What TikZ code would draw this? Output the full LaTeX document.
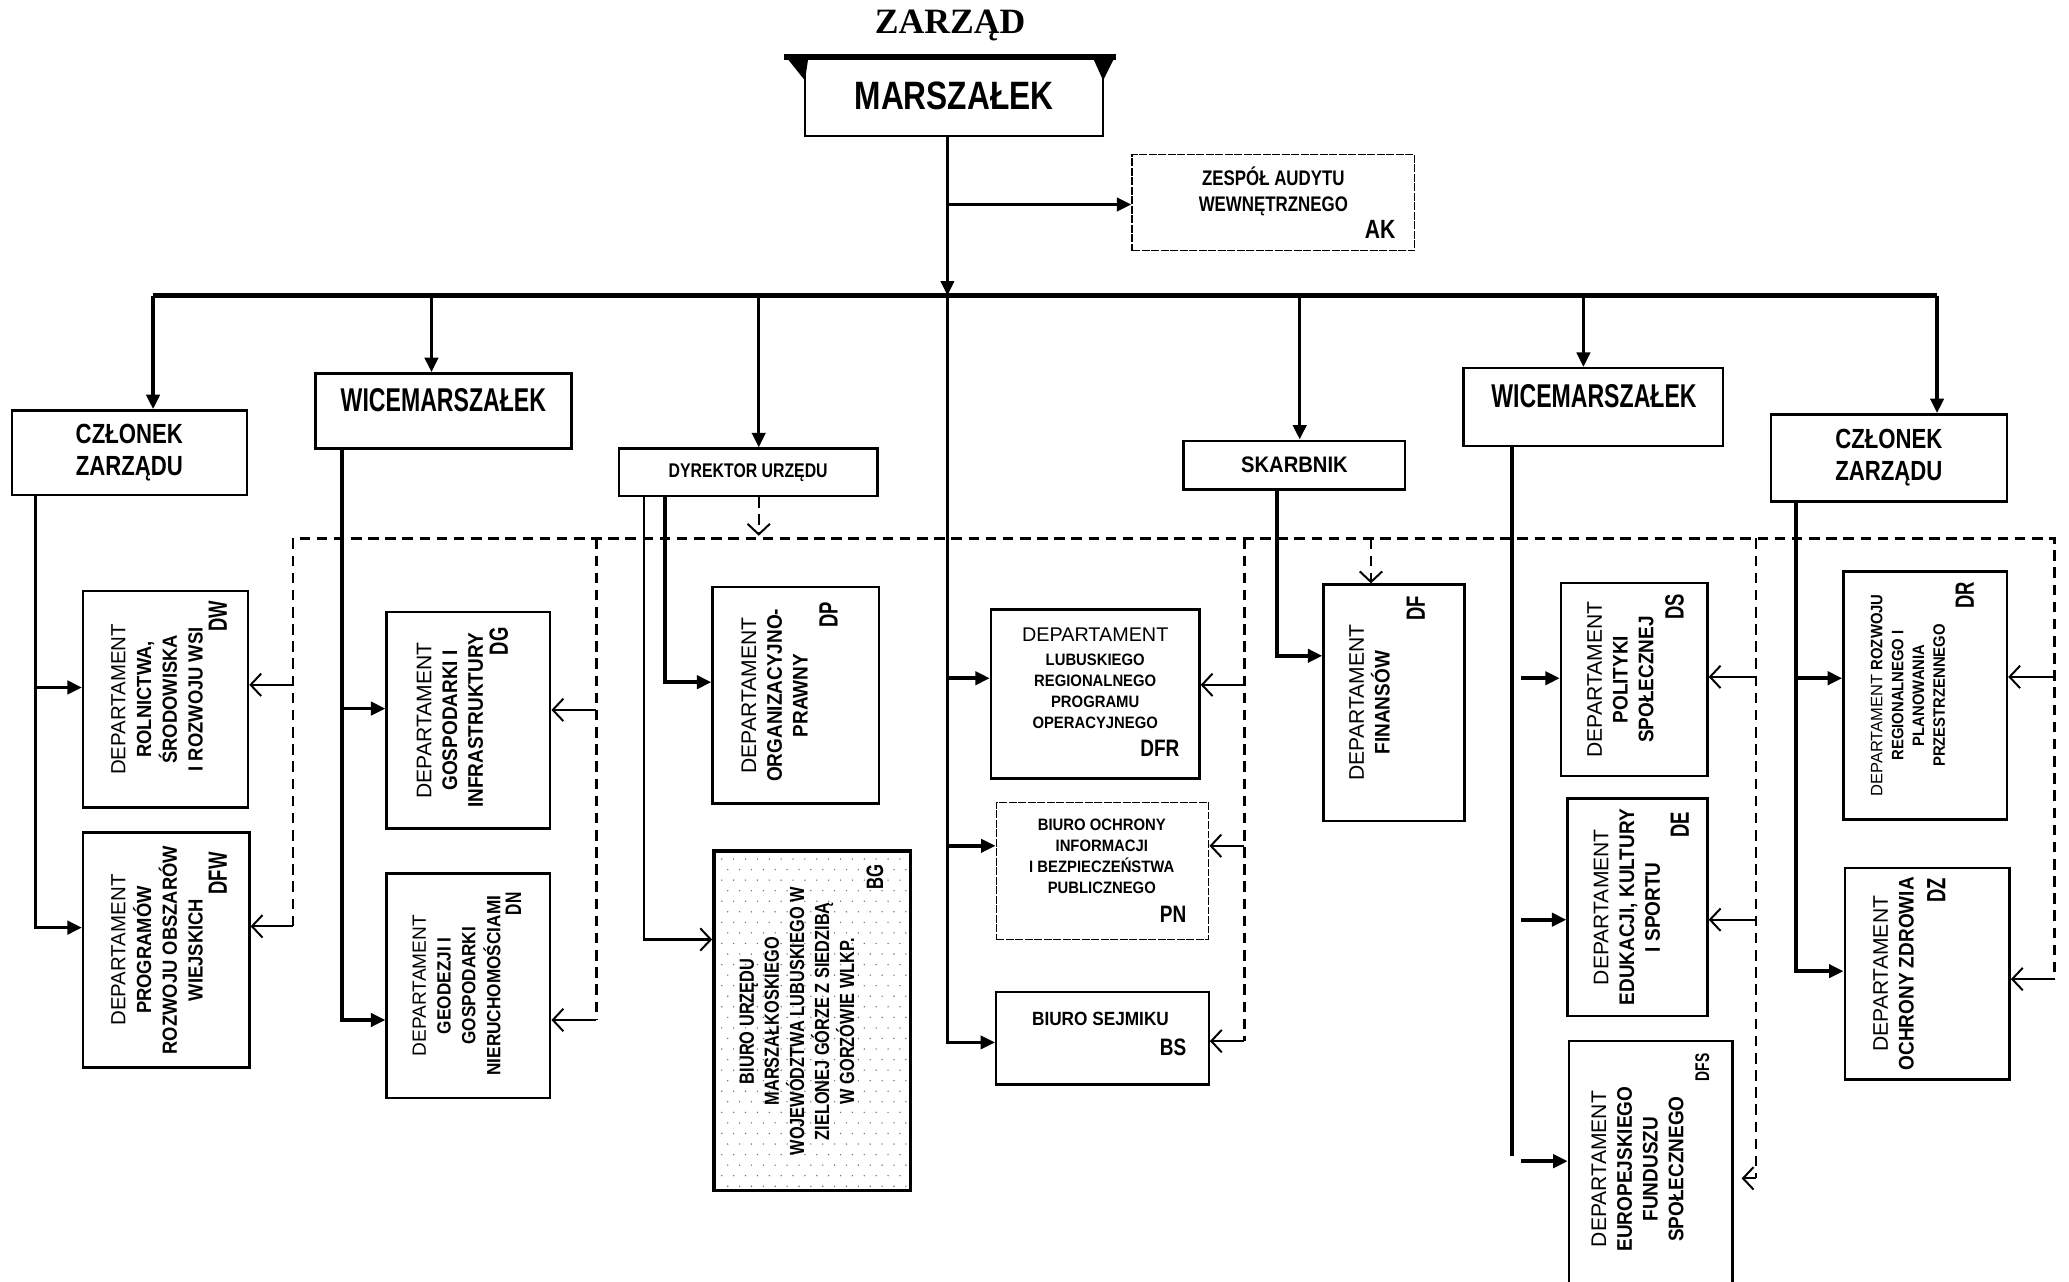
\documentclass[tikz,border=0pt]{standalone}
\usepackage{fontspec}
\setmainfont{Liberation Sans}
\newfontfamily\fA[FakeStretch=0.8]{Liberation Sans}
\newfontfamily\fB[FakeStretch=0.7]{Liberation Sans}
\newfontfamily\fC[FakeStretch=0.9]{Liberation Sans}
\newfontfamily\fS{Liberation Serif}
\usetikzlibrary{arrows.meta,calc}
\newcommand\dep{{\rmfamily\mdseries DEPARTAMENT}}
\begin{document}
\begin{tikzpicture}[x=1pt,y=-1pt,
  box/.style={draw, line width=1.8pt, inner sep=0pt},
  tri/.style={-{Triangle[length=11pt,width=10pt]}},
  barb/.style={-{Straight Barb[length=8pt,width=17pt,line width=1.5pt]}},
  sol/.style={line width=2.8pt},
  thn/.style={line width=1.5pt},
  dsh/.style={line width=1.8pt, dash pattern=on 8pt off 5pt},
  rot/.style={rotate=90, align=center, inner sep=0pt, font=\fontsize{16}{19.5}\selectfont\fC\bfseries},
  rcode/.style={rotate=90, inner sep=0pt, font=\fontsize{20}{20}\selectfont\fB\bfseries},
  hcode/.style={inner sep=0pt, font=\fontsize{18}{18}\selectfont\fA\bfseries},
]
\useasboundingbox (0,0) rectangle (1568,971);
\clip (0,0) rectangle (1568,971);

% ---------- title ----------
\node[font=\fontsize{27}{27}\selectfont\fS\bfseries] (title) at (720,19) {ZARZĄD};

% ---------- top level ----------
\fill (594,41) rectangle (846,45.5);
\fill (594,41) -- (613,41) -- (610,61) -- cycle;
\fill (827,41) -- (846,41) -- (836,61) -- cycle;
\node[box, minimum width=226pt, minimum height=60pt, font=\fontsize{30}{30}\selectfont\fA\bfseries] (marsz) at (723,73) {MARSZAŁEK};

\node[box, line width=1.1pt, dash pattern=on 6pt off 1.2pt, minimum width=214pt, minimum height=73pt] (ak) at (965,153.5) {};
\node[font=\fontsize{16}{19}\selectfont\fA\bfseries, align=center] (akT) at (965,145) {ZESPÓŁ AUDYTU\\WEWNĘTRZNEGO};
\node[hcode, font=\fontsize{20}{20}\selectfont\fA\bfseries] (akC) at (1046,174) {AK};

% ---------- second level ----------
\node[box, minimum width=178pt, minimum height=64pt, align=center, font=\fontsize{21}{24}\selectfont\fA\bfseries] (czlL) at (98,343) {CZŁONEK\\ZARZĄDU};
\node[box, minimum width=194pt, minimum height=57pt] (wicL) at (336,311.5) {};
\node[font=\fontsize{25}{25}\selectfont\fB\bfseries] (wicLT) at (336,303) {WICEMARSZAŁEK};
\node[box, minimum width=196pt, minimum height=36pt, font=\fontsize{15}{15}\selectfont\fA\bfseries] (dyr) at (567,358) {DYREKTOR URZĘDU};
\node[box, minimum width=168pt, minimum height=37pt, font=\fontsize{17}{17}\selectfont\fC\bfseries] (skarb) at (981,352.5) {SKARBNIK};
\node[box, minimum width=197pt, minimum height=59pt] (wicR) at (1207.5,308.5) {};
\node[font=\fontsize{25}{25}\selectfont\fB\bfseries] (wicRT) at (1208,300) {WICEMARSZAŁEK};
\node[box, minimum width=179pt, minimum height=66pt, align=center, font=\fontsize{21}{24}\selectfont\fA\bfseries] (czlR) at (1431.5,347) {CZŁONEK\\ZARZĄDU};

% ---------- departments ----------
\node[box, minimum width=125pt, minimum height=164pt] (dw) at (125.5,530) {};
\node[box, minimum width=126pt, minimum height=178pt] (dfw) at (126,720) {};
\node[box, minimum width=124pt, minimum height=164pt] (dg) at (355,546) {};
\node[box, minimum width=124pt, minimum height=170pt] (dn) at (355,747) {};
\node[box, minimum width=126pt, minimum height=164pt] (dp) at (603,527) {};
\foreach \i in {0,...,15}
  \foreach \j in {0,...,31}
    \fill[black!55] ({547+\i*9+mod(\j,2)*4.5},{651+\j*8}) circle (0.6pt);
\node[box, line width=2.6pt, minimum width=149pt, minimum height=257pt] (bg) at (615.5,773.5) {};
\node[box, minimum width=158pt, minimum height=128pt] (dfr) at (830,526) {};
\node[box, line width=1.1pt, dash pattern=on 6pt off 1.2pt, minimum width=161pt, minimum height=104pt] (pn) at (835.5,660) {};
\node[box, minimum width=161pt, minimum height=70pt] (bs) at (835.5,787) {};
\node[box, minimum width=107pt, minimum height=179pt] (df) at (1056.5,532.5) {};
\node[box, minimum width=111pt, minimum height=146pt] (ds) at (1238.5,515) {};
\node[box, minimum width=106pt, minimum height=165pt] (de) at (1241,687.5) {};
\node[box, minimum width=124pt, minimum height=196pt] (dfs) at (1251,887) {};
\node[box, minimum width=124pt, minimum height=188pt] (dr) at (1459,527) {};
\node[box, minimum width=125pt, minimum height=160pt] (dz) at (1460.5,738) {};

% ---------- department texts ----------
\node[rot, font=\fontsize{15.5}{19.5}\selectfont\fC\bfseries] (dwT) at (119,530) {\dep\\ROLNICTWA,\\ŚRODOWISKA\\I ROZWOJU WSI};
\node[rcode] (dwC) at (165,467) {DW};
\node[rot, font=\fontsize{15.5}{19.5}\selectfont\fC\bfseries] (dfwT) at (119,720) {\dep\\PROGRAMÓW\\ROZWOJU OBSZARÓW\\WIEJSKICH};
\node[rcode] (dfwC) at (165,662) {DFW};
\node[rot] (dgT) at (341,546) {\dep\\GOSPODARKI I\\INFRASTRUKTURY};
\node[rcode] (dgC) at (378,486) {DG};
\node[rot, font=\fontsize{14.5}{18.8}\selectfont\fC\bfseries] (dnT) at (346,747) {\dep\\GEODEZJI I\\GOSPODARKI\\NIERUCHOMOŚCIAMI};
\node[rcode, font=\fontsize{17}{17}\selectfont\fB\bfseries] (dnC) at (389,685) {DN};
\node[rot] (dpT) at (587,527) {\dep\\ORGANIZACYJNO-\\PRAWNY};
\node[rcode] (dpC) at (628,466) {DP};
\node[rot, font=\fontsize{15.5}{19}\selectfont\fA\bfseries] (bgT) at (604,774) {BIURO URZĘDU\\MARSZAŁKOSKIEGO\\WOJEWÓDZTWA LUBUSKIEGO W\\ZIELONEJ GÓRZE Z SIEDZIBĄ\\W GORZÓWIE WLKP.};
\node[rcode, font=\fontsize{18}{18}\selectfont\fB\bfseries] (bgC) at (663,665) {BG};

\node[font=\fontsize{15}{15}\selectfont] (dfrT) at (830,481) {DEPARTAMENT};
\node[font=\fontsize{12.5}{16}\selectfont\fC\bfseries, align=center, inner sep=0pt] (dfrL) at (830,524) {LUBUSKIEGO\\REGIONALNEGO\\PROGRAMU\\OPERACYJNEGO};
\node[hcode] (dfrC) at (879,567) {DFR};
\node[font=\fontsize{12.5}{16}\selectfont\fC\bfseries, align=center, inner sep=0pt] (pnT) at (835,649) {BIURO OCHRONY\\INFORMACJI\\I BEZPIECZEŃSTWA\\PUBLICZNEGO};
\node[hcode] (pnC) at (889,693) {PN};
\node[font=\fontsize{14.5}{14.5}\selectfont\fC\bfseries] (bsT) at (834,772) {BIURO SEJMIKU};
\node[hcode] (bsC) at (889,794) {BS};

\node[rot] (dfT) at (1038,532.5) {\dep\\FINANSÓW};
\node[rcode] (dfC) at (1073,461) {DF};
\node[rot] (dsT) at (1228,515) {\dep\\POLITYKI\\SPOŁECZNEJ};
\node[rcode] (dsC) at (1269,460) {DS};
\node[rot, font=\fontsize{16}{19.5}\selectfont\fC\bfseries] (deT) at (1233,687.5) {\dep\\EDUKACJI, KULTURY\\I SPORTU};
\node[rcode] (deC) at (1273,625) {DE};
\node[rot] (dfsT) at (1241,886) {\dep\\EUROPEJSKIEGO\\FUNDUSZU\\SPOŁECZNEGO};
\node[rcode, font=\fontsize{15}{15}\selectfont\fB\bfseries] (dfsC) at (1290,809) {DFS};
\node[rot, font=\fontsize{12.5}{15.8}\selectfont\fC\bfseries] (drT) at (1446,527) {\dep{} ROZWOJU\\REGIONALNEGO I\\PLANOWANIA\\PRZESTRZENNEGO};
\node[rcode] (drC) at (1489,451) {DR};
\node[rot] (dzT) at (1435,738) {\dep\\OCHRONY ZDROWIA};
\node[rcode] (dzC) at (1467.5,675) {DZ};

% ---------- solid connectors ----------
\coordinate (bm) at (718,224);
\draw[line width=2.2pt, tri] (marsz.south -| bm) -- (bm);
\coordinate (akj) at (718,155);
\draw[line width=2.4pt, tri] (akj) -- (akj -| ak.west);
\coordinate (busL) at (116,224);
\coordinate (busR) at (1468,224);
\draw[line width=3.4pt] (busL) -- (busR);
\coordinate (b2) at (327,224);
\coordinate (b3) at (575,224);
\coordinate (b5) at (985,224);
\coordinate (b6) at (1200,224);
\draw[line width=2.6pt, tri] (busL) -- (busL |- czlL.north);
\draw[line width=2.6pt, tri] (b2) -- (b2 |- wicL.north);
\draw[line width=2.6pt, tri] (b3) -- (b3 |- dyr.north);
\draw[line width=2.6pt, tri] (b5) -- (b5 |- skarb.north);
\draw[line width=2.6pt, tri] (b6) -- (b6 |- wicR.north);
\draw[line width=2.6pt, tri] (busR) -- (busR |- czlR.north);

% main vertical
\coordinate (m1) at (718,514);
\coordinate (m2) at (718,641);
\coordinate (m3) at (718,790);
\draw[line width=2.4pt, tri] (bm) -- (m3) -- (m3 -| bs.west);
\draw[sol, tri] (m1) -- (m1 -| dfr.west);
\draw[sol, tri] (m2) -- (m2 -| pn.west);

% CZLONEK left
\coordinate (c1a) at (27,521);
\coordinate (c1b) at (27,703);
\draw[sol, tri] (czlL.south -| c1a) -- (c1b) -- (c1b -| dfw.west);
\draw[sol, tri] (c1a) -- (c1a -| dw.west);

% WICEMARSZALEK left
\coordinate (w1a) at (259,537);
\coordinate (w1b) at (259,773);
\draw[sol, tri] (wicL.south -| w1a) -- (w1b) -- (w1b -| dn.west);
\draw[sol, tri] (w1a) -- (w1a -| dg.west);

% DYREKTOR
\coordinate (d1a) at (504,517);
\coordinate (d1b) at (488,712);
\draw[sol, tri] (dyr.south -| d1a) -- (d1a) -- (d1a -| dp.west);
\draw[line width=2pt, barb] (dyr.south -| d1b) -- (d1b) -- (d1b -| bg.west);

% SKARBNIK
\coordinate (s1) at (968,497);
\draw[sol, tri] (skarb.south -| s1) -- (s1) -- (s1 -| df.west);

% WICEMARSZALEK right
\coordinate (w2) at (1146,876);
\draw[sol] (wicR.south -| w2) -- (w2);
\coordinate (w2a) at (1153,514);
\coordinate (w2b) at (1153,697);
\coordinate (w2c) at (1153,880);
\draw[sol, tri] (w2a) -- (w2a -| ds.west);
\draw[sol, tri] (w2b) -- (w2b -| de.west);
\draw[sol, tri] (w2c) -- (w2c -| dfs.west);

% CZLONEK right
\coordinate (c2a) at (1361,514);
\coordinate (c2b) at (1361,736);
\draw[sol, tri] (czlR.south -| c2a) -- (c2b) -- (c2b -| dz.west);
\draw[sol, tri] (c2a) -- (c2a -| dr.west);

% ---------- dashed connectors ----------
\coordinate (q1) at (222,408);
\coordinate (q2) at (1557,408);
\coordinate (e1a) at (222,519);
\coordinate (e1b) at (222,702);
\coordinate (e5a) at (1557,513);
\coordinate (e5b) at (1557,742);
\draw[dsh] (e1b) -- (q1) -- (q2) -- (e5b);
\draw[thn, barb] (e1a) -- (e1a -| dw.east);
\draw[thn, barb] (e1b) -- (e1b -| dfw.east);
\draw[thn, barb] (e5a) -- (e5a -| dr.east);
\draw[thn, barb] (e5b) -- (e5b -| dz.east);

\coordinate (e2t) at (452,408);
\coordinate (e2a) at (452,538);
\coordinate (e2b) at (452,773);
\draw[dsh] (e2t) -- (e2b);
\draw[thn, barb] (e2a) -- (e2a -| dg.east);
\draw[thn, barb] (e2b) -- (e2b -| dn.east);

\coordinate (e3t) at (943,408);
\coordinate (e3a) at (943,519);
\coordinate (e3b) at (943,641);
\coordinate (e3c) at (943,789);
\draw[dsh] (e3t) -- (e3c);
\draw[thn, barb] (e3a) -- (e3a -| dfr.east);
\draw[thn, barb] (e3b) -- (e3b -| pn.east);
\draw[thn, barb] (e3c) -- (e3c -| bs.east);

\coordinate (e4t) at (1331,408);
\coordinate (e4a) at (1331,513);
\coordinate (e4b) at (1331,697);
\coordinate (e4c) at (1331,893);
\draw[dsh] (e4t) -- (e4c);
\draw[thn, barb] (e4a) -- (e4a -| ds.east);
\draw[thn, barb] (e4b) -- (e4b -| de.east);
\draw[thn, barb] (e4c) -- ($(e4c -| dfs.east)+(6,0)$);

\coordinate (dd) at (575,406);
\draw[dsh, barb] (dyr.south -| dd) -- (dd);
\coordinate (fd) at (1039,408);
\draw[dsh, barb] (fd) -- (fd |- df.north);
\end{tikzpicture}
\end{document}
